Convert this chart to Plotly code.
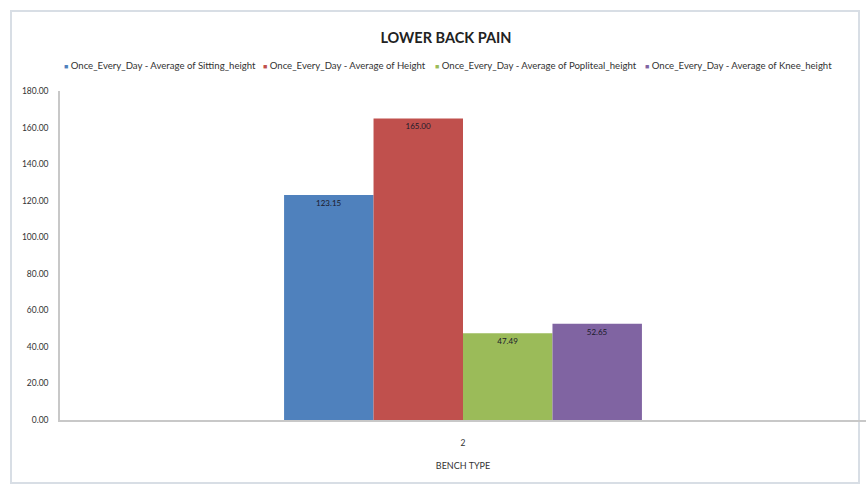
import plotly.graph_objects as go

# Chart data
categories = ["2"]
series_names = [
    "Once_Every_Day - Average of Sitting_height",
    "Once_Every_Day - Average of Height",
    "Once_Every_Day - Average of Popliteal_height",
    "Once_Every_Day - Average of Knee_height",
]
series_values = [123.15, 165.00, 47.49, 52.65]
series_colors = ["#4F81BD", "#C0504D", "#9BBB59", "#8064A2"]
y_ticks = [0, 20, 40, 60, 80, 100, 120, 140, 160, 180]

FONT = "Lato, 'Open Sans', sans-serif"
TEXT = "#333333"

# Plot area geometry in pixels (used to place the frame and legend row)
PLOT_L, PLOT_R, PLOT_T, PLOT_B = 60, 866, 91, 420
pw, ph = float(PLOT_R - PLOT_L), float(PLOT_B - PLOT_T)


def px_x(px):
    return (px - PLOT_L) / pw


def px_y(py):
    return (PLOT_B - py) / ph


fig = go.Figure()
for name, val, col in zip(series_names, series_values, series_colors):
    fig.add_trace(go.Bar(
        x=categories,
        y=[val],
        name=name,
        marker=dict(color=col, line=dict(width=0)),
        text=[f"{val:.2f}"],
        textposition="inside",
        insidetextanchor="end",
        textfont=dict(size=8, color="#1a1a2a", family=FONT),
        textangle=0,
        showlegend=False,
    ))

# Legend row: small coloured square followed by the series name
legend_x_px = [62, 261, 433, 643]
for name, col, lx in zip(series_names, series_colors, legend_x_px):
    fig.add_annotation(
        xref="paper", yref="paper",
        x=px_x(lx), y=px_y(65),
        xanchor="left", yanchor="middle",
        showarrow=False,
        text=f"<span style='color:{col}; font-size:7px'>■</span> {name}",
        font=dict(size=9.6, color=TEXT, family=FONT),
    )

# Light frame around the whole chart
fig.add_shape(
    type="rect", xref="paper", yref="paper",
    x0=px_x(11), x1=px_x(859),
    y0=px_y(483), y1=px_y(11),
    line=dict(color="#d8dee5", width=2), fillcolor="rgba(0,0,0,0)",
    layer="below",
)

fig.update_layout(
    width=866, height=486,
    margin=dict(l=PLOT_L, r=866 - PLOT_R, t=PLOT_T, b=486 - PLOT_B),
    paper_bgcolor="white", plot_bgcolor="white",
    font=dict(family=FONT, color=TEXT),
    barmode="group",
    bargap=0.556, bargroupgap=0,
    showlegend=False,
    title=dict(
        text="<b>LOWER BACK PAIN</b>",
        x=446 / 866, xref="container", xanchor="center",
        y=1 - 38 / 486, yanchor="middle",
        font=dict(size=14.5, color="#222222", family=FONT),
    ),
    xaxis=dict(
        showline=True, linecolor="#c8c8c8", linewidth=1.5,
        showgrid=False, ticks="", ticklabelstandoff=14,
        tickfont=dict(size=8.5, color=TEXT),
        title=dict(text="BENCH TYPE", font=dict(size=9, color=TEXT), standoff=16),
    ),
    yaxis=dict(
        range=[0, 180],
        tickvals=y_ticks,
        ticktext=[f"{v:.2f}" for v in y_ticks],
        showline=True, linecolor="#c8c8c8", linewidth=1.5,
        showgrid=False, zeroline=False,
        ticks="", ticklabelstandoff=8,
        tickfont=dict(size=8.5, color=TEXT),
    ),
    uniformtext=dict(minsize=6, mode="show"),
)

fig.write_html("out.html")
